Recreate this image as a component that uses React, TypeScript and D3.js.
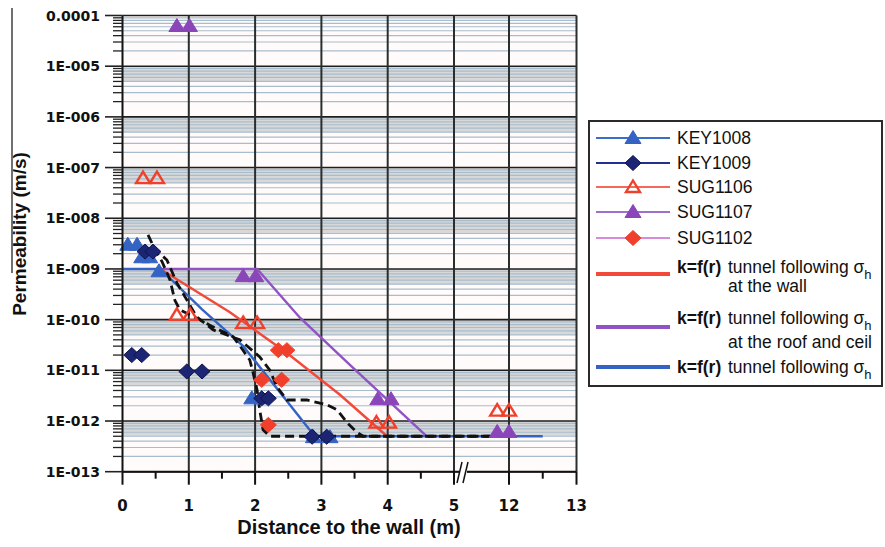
import React from "react";
import * as d3 from "d3";

// ---------- axis definitions ----------
const xDomainBreaks = [0, 5, 12, 13];
const xTickValues = [0, 1, 2, 3, 4, 5, 12, 13];
const xMinorTickValues = [0.5, 1.5, 2.5, 3.5, 4.5, 12.5];
const xGridValues = [1, 2, 3, 4, 5, 12];
const yTickValues = [1e-4, 1e-5, 1e-6, 1e-7, 1e-8, 1e-9, 1e-10, 1e-11, 1e-12, 1e-13];
const yTickLabels = ["0.0001", "1E-005", "1E-006", "1E-007", "1E-008", "1E-009", "1E-010", "1E-011", "1E-012", "1E-013"];

// ---------- measured series ----------
const key1008X = [0.08, 0.22, 0.29, 0.41, 0.55, 1.95, 2.1, 2.88, 3.13];
const key1008Y = [3e-9, 3e-9, 1.7e-9, 1.7e-9, 9e-10, 2.8e-12, 2.8e-12, 4.8e-13, 4.8e-13];

const key1009X = [0.14, 0.29, 0.34, 0.46, 0.97, 1.2, 2.1, 2.2, 2.86, 3.08];
const key1009Y = [2e-11, 2e-11, 2.2e-9, 2.2e-9, 9.5e-12, 9.5e-12, 2.8e-12, 2.8e-12, 4.9e-13, 4.9e-13];

const sug1106X = [0.31, 0.52, 0.82, 1.02, 1.82, 2.03, 3.83, 4.02, 10.5, 12.0];
const sug1106Y = [6.2e-8, 6.2e-8, 1.24e-10, 1.24e-10, 8.6e-11, 8.6e-11, 9.3e-13, 9.3e-13, 1.6e-12, 1.6e-12];

const sug1107X = [0.82, 1.01, 1.82, 2.01, 3.85, 4.05, 10.5, 12.0];
const sug1107Y = [6.2e-5, 6.2e-5, 7.2e-10, 7.2e-10, 2.7e-12, 2.7e-12, 6.1e-13, 6.1e-13];

const sug1102X = [2.35, 2.48, 2.1, 2.4, 2.2];
const sug1102Y = [2.5e-11, 2.5e-11, 6.5e-12, 6.5e-12, 8.4e-13];

// k = f(r) model curves
const kWallX = [0.57, 1.62, 2.48, 3.28, 3.99];
const kWallY = [1e-9, 1.4e-10, 2.2e-11, 3.3e-12, 5e-13];

const kRoofX = [0.57, 2.03, 2.68, 3.43, 4.59];
const kRoofY = [1e-9, 1e-9, 1.08e-10, 1.28e-11, 5e-13];

const kTunnelX = [0, 0.57, 1.2, 1.82, 2.38, 2.9, 12.5];
const kTunnelY = [1e-9, 1e-9, 1.6e-10, 3e-11, 3.6e-12, 5e-13, 5e-13];

// dashed black curves
const dashAX = [0.385, 0.49, 0.596, 0.716, 0.79, 0.867, 1.17, 1.365, 1.667, 1.817, 1.92, 1.97, 2.03, 2.07, 2.12, 2.22, 9.7];
const dashAY = [4.7e-9, 2.4e-9, 1.4e-9, 6.1e-10, 2.4e-10, 1.55e-10, 9.9e-11, 7.2e-11, 4.6e-11, 2.5e-11, 1.6e-11, 8.9e-12, 4.1e-12, 1.65e-12, 6.7e-13, 5e-13, 5e-13];

const dashBX = [0.46, 0.67, 0.82, 0.97, 1.12, 1.365, 1.77, 2.07, 2.22, 2.33, 2.48, 2.78, 3.08, 3.24, 3.39, 3.54, 3.63, 9.75];
const dashBY = [2.7e-9, 1.5e-9, 5.3e-10, 2.45e-10, 1.13e-10, 6.3e-11, 4e-11, 1.84e-11, 1.02e-11, 4.7e-12, 2.6e-12, 2.6e-12, 2.1e-12, 1.65e-12, 9.2e-13, 5.9e-13, 5e-13, 5e-13];

// ---------- styling ----------
const C = {
  blue: "#3563c4",
  navy: "#1c2474",
  red: "#f0402c",
  purple: "#8a46b8",
  purpleLine: "#9053c4",
  pink: "#d98ad9",
  redLine: "#f2493a",
};

const X0 = 122.5, X1 = 576.5;
const Y0 = 15.5, Y1 = 471.7;

const x = d3.scaleLinear().domain(xDomainBreaks).range([X0, 454, 509, X1]);
const y = d3.scaleLog().domain([1e-4, 1e-13]).range([Y0, Y1]);

const zip = (xs: number[], ys: number[]) => xs.map((v, i) => [v, ys[i]] as [number, number]);
const line = d3.line<[number, number]>().x((d) => x(d[0])).y((d) => y(d[1]));

const tri = "M0,-7.5L8,5.5L-8,5.5Z";
const triSmall = "M0,-6.5L7,5L-7,5Z";
const dia = "M0,-7.5L8,0L0,7.5L-8,0Z";

function Marker({ kind, cx, cy }: { kind: string; cx: number; cy: number }) {
  const t = `translate(${cx},${cy})`;
  if (kind === "KEY1008") return <path d={tri} transform={t} fill={C.blue} stroke={C.blue} strokeWidth={1} />;
  if (kind === "KEY1009") return <path d={dia} transform={t} fill={C.navy} stroke="#101450" strokeWidth={1} />;
  if (kind === "SUG1106") return <path d={triSmall} transform={t} fill="none" stroke={C.red} strokeWidth={2.4} />;
  if (kind === "SUG1107") return <path d={tri} transform={t} fill={C.purple} stroke={C.purple} strokeWidth={1} />;
  return <path d={dia} transform={t} fill={C.red} stroke={C.red} strokeWidth={1} />;
}

const seriesList = [
  { name: "KEY1008", xs: key1008X, ys: key1008Y, legendLine: "#3a6fc9" },
  { name: "KEY1009", xs: key1009X, ys: key1009Y, legendLine: "#23308f" },
  { name: "SUG1106", xs: sug1106X, ys: sug1106Y, legendLine: "#f36a5a" },
  { name: "SUG1107", xs: sug1107X, ys: sug1107Y, legendLine: "#9c70cc" },
  { name: "SUG1102", xs: sug1102X, ys: sug1102Y, legendLine: "#d98ad9" },
];

export default function App() {
  const decades = d3.range(-13, -4); // lower exponent of each decade
  const minors: number[] = [];
  decades.forEach((e) => {
    for (let m = 2; m <= 9; m++) minors.push(m * Math.pow(10, e));
  });
  const shaded = decades.filter((e) => e !== -5);

  const legendRows = [138, 163, 187, 212, 238];
  const font = "'Liberation Sans', Arial, sans-serif";

  return (
    <svg width={885} height={547} style={{ display: "block", position: "absolute", left: 0, top: 0 }} fontFamily={font}>
      <rect x={0} y={0} width={885} height={547} fill="#ffffff" />
      {/* plot background */}
      <rect x={X0} y={Y0} width={X1 - X0} height={Y1 - Y0} fill="#fffbfa" />
      {/* shaded bands */}
      {shaded.map((e) => (
        <rect key={"s" + e} x={X0} y={y(Math.pow(10, e + 1))} width={X1 - X0}
          height={y(5 * Math.pow(10, e)) - y(Math.pow(10, e + 1))} fill="#d8d8d8" />
      ))}
      {/* minor grid */}
      {minors.map((v, i) => (
        <line key={"mg" + i} x1={X0} x2={X1} y1={y(v)} y2={y(v)} stroke="#a7bccc" strokeWidth={1.2} />
      ))}
      {/* major horizontal grid */}
      {yTickValues.map((v, i) => (
        <line key={"Mg" + i} x1={X0} x2={X1} y1={y(v)} y2={y(v)} stroke="#1e1e1e" strokeWidth={1.6} />
      ))}
      {/* vertical grid */}
      {xGridValues.map((v, i) => (
        <line key={"vg" + i} x1={x(v)} x2={x(v)} y1={Y0} y2={Y1} stroke="#2a2e2e" strokeWidth={2} />
      ))}
      <line x1={X1} x2={X1} y1={Y0} y2={Y1} stroke="#2a2e2e" strokeWidth={2} />

      {/* model lines */}
      <path d={line(zip(kWallX, kWallY)) || ""} fill="none" stroke={C.redLine} strokeWidth={2.4} />
      <path d={line(zip(kRoofX, kRoofY)) || ""} fill="none" stroke={C.purpleLine} strokeWidth={2.4} />
      <path d={line(zip(kTunnelX, kTunnelY)) || ""} fill="none" stroke={C.blue} strokeWidth={2.4} />
      <path d={line(zip(dashAX, dashAY)) || ""} fill="none" stroke="#111" strokeWidth={2.8} strokeDasharray="9,5" />
      <path d={line(zip(dashBX, dashBY)) || ""} fill="none" stroke="#111" strokeWidth={2.8} strokeDasharray="9,5" />

      {/* markers */}
      {seriesList.map((s) =>
        s.xs.map((v, i) => <Marker key={s.name + i} kind={s.name} cx={x(v)} cy={y(s.ys[i])} />)
      )}

      {/* axes */}
      <line x1={X0} x2={X0} y1={Y0} y2={Y1} stroke="#111" strokeWidth={2} />
      <line x1={X0} x2={X1} y1={Y1} y2={Y1} stroke="#111" strokeWidth={2} />
      {minors.map((v, i) => (
        <line key={"mt" + i} x1={113} x2={X0} y1={y(v)} y2={y(v)} stroke="#222" strokeWidth={1.3} />
      ))}
      {yTickValues.map((v, i) => (
        <g key={"yt" + i}>
          <line x1={105} x2={X0} y1={y(v)} y2={y(v)} stroke="#222" strokeWidth={1.6} />
          <text x={100} y={y(v)} dy="0.36em" textAnchor="end" fontSize={14} fontWeight="bold"
            fontFamily="'DejaVu Sans', sans-serif" fill="#111">{yTickLabels[i]}</text>
        </g>
      ))}
      {xTickValues.map((v, i) => (
        <g key={"xt" + i}>
          <line x1={x(v)} x2={x(v)} y1={Y1} y2={Y1 + 13} stroke="#111" strokeWidth={2} />
          <text x={x(v)} y={Y1 + 34} dy="0.36em" textAnchor="middle" fontSize={15} fontWeight="bold"
            fontFamily="'DejaVu Sans', sans-serif" fill="#111">{v}</text>
        </g>
      ))}
      {xMinorTickValues.map((v, i) => (
        <line key={"xm" + i} x1={x(v)} x2={x(v)} y1={Y1} y2={Y1 + 7} stroke="#111" strokeWidth={2} />
      ))}
      {/* axis break */}
      <rect x={459} y={462} width={8} height={20} fill="#ffffff" />
      <line x1={457} y1={483} x2={462} y2={462} stroke="#111" strokeWidth={1.5} />
      <line x1={463} y1={483} x2={468} y2={462} stroke="#111" strokeWidth={1.5} />

      {/* axis titles */}
      <text x={349} y={527} dy="0.36em" textAnchor="middle" fontSize={20} fontWeight="bold" fill="#111">
        Distance to the wall (m)
      </text>
      <text transform="translate(19,234) rotate(-90)" dy="0.36em" textAnchor="middle" fontSize={19} fontWeight="bold" fill="#111">
        Permeability (m/s)
      </text>
      <line x1={12} x2={12} y1={8} y2={273} stroke="#111" strokeWidth={1.2} />

      {/* legend */}
      <rect x={589} y={121} width={293} height={265} fill="#ffffff" stroke="#2a2a2a" strokeWidth={2} />
      {seriesList.map((s, i) => (
        <g key={"lg" + i}>
          <line x1={596} x2={670} y1={legendRows[i]} y2={legendRows[i]} stroke={s.legendLine} strokeWidth={1.8} />
          <Marker kind={s.name} cx={633} cy={legendRows[i]} />
          <text x={677} y={legendRows[i]} dy="0.36em" fontSize={17.5} fill="#111">{s.name}</text>
        </g>
      ))}
      {[
        { yl: 274, color: C.redLine, l1: 267, l2: "at the wall", l2y: 286 },
        { yl: 327, color: C.purpleLine, l1: 318, l2: "at the roof and ceil", l2y: 342 },
        { yl: 367, color: C.blue, l1: 367, l2: "", l2y: 0 },
      ].map((r, i) => (
        <g key={"kl" + i}>
          <line x1={596} x2={670} y1={r.yl} y2={r.yl} stroke={r.color} strokeWidth={4} />
          <text x={677} y={r.l1} dy="0.36em" fontSize={17.5} fill="#111">
            <tspan fontWeight="bold">k=f(r)</tspan>
            <tspan x={728}>tunnel following σ</tspan>
            <tspan dy="6" fontSize={13}>h</tspan>
          </text>
          {r.l2 && (
            <text x={728} y={r.l2y} dy="0.36em" fontSize={17.5} fill="#111">{r.l2}</text>
          )}
        </g>
      ))}
    </svg>
  );
}
